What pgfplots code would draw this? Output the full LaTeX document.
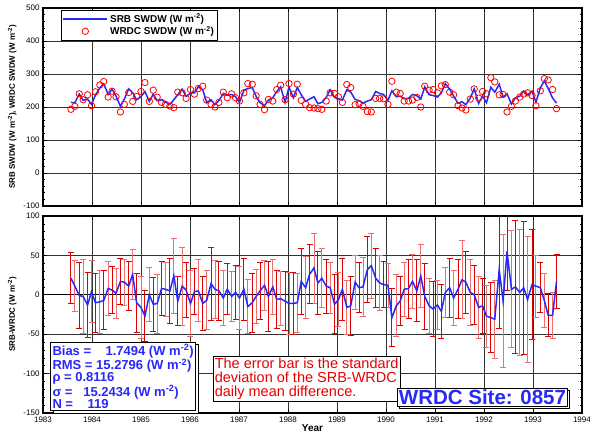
\documentclass[border=0pt]{standalone}
\usepackage{fontspec}
\setmainfont{Liberation Sans}
\usepackage{pgfplots}
\usepackage{pgfplotstable}
\pgfplotsset{compat=1.18}
\usetikzlibrary{shadows, arrows.meta}

\definecolor{srbblue}{RGB}{40,40,250}
\definecolor{barred}{RGB}{220,0,0}
\definecolor{barpink}{RGB}{238,110,110}
\definecolor{txtred}{RGB}{230,0,0}

% monthly means: x, WRDC, SRB, SRB-WRDC, std dev of daily difference
\pgfplotstableread{
x wrdc srb diff sig
1983.57 193 214 21 33
1983.65 202 213 11 33
1983.74 240 239 -1 42
1983.82 222 220 -2 48
1983.91 237 224 -13 42
1983.99 204 208 4 40
1984.07 246 236 -10 38
1984.16 267 258 -9 40
1984.24 277 270 -7 38
1984.33 230 238 8 35
1984.41 248 254 6 30
1984.49 231 233 2 32
1984.58 185 202 17 30
1984.66 208 224 16 30
1984.75 244 255 11 32
1984.83 217 243 26 32
1984.91 232 222 -10 38
1985.00 247 231 -16 40
1985.08 274 247 -27 33
1985.17 217 217 0 35
1985.25 251 239 -12 35
1985.33 230 219 -11 38
1985.42 214 222 8 35
1985.50 208 215 7 35
1985.59 203 208 5 42
1985.67 198 222 24 48
1985.75 245 237 -8 32
1985.84 243 254 11 50
1985.92 226 232 6 35
1986.01 253 242 -11 43
1986.09 239 243 4 30
1986.17 256 261 5 40
1986.26 263 252 -11 35
1986.34 221 214 -7 38
1986.43 208 222 14 47
1986.51 200 207 7 37
1986.59 214 219 5 38
1986.68 245 241 -4 35
1986.76 228 235 7 33
1986.85 240 238 -2 32
1986.93 228 231 3 35
1987.01 218 214 -4 40
1987.10 243 250 7 40
1987.18 271 256 -15 35
1987.27 269 259 -10 38
1987.35 234 232 -2 35
1987.43 208 213 5 37
1987.52 192 204 12 32
1987.60 223 221 -2 45
1987.69 218 228 10 36
1987.77 253 247 -6 37
1987.85 266 261 -5 35
1987.94 222 214 -8 38
1988.02 271 260 -11 40
1988.11 239 228 -11 40
1988.19 269 259 -10 38
1988.27 220 237 17 42
1988.36 208 217 9 40
1988.44 198 224 26 38
1988.53 197 231 34 45
1988.61 195 210 15 40
1988.69 193 214 21 38
1988.78 218 229 11 35
1988.86 243 252 9 33
1988.95 241 229 -12 38
1989.03 231 225 -6 35
1989.11 214 221 7 40
1989.20 268 252 -16 35
1989.28 259 245 -14 38
1989.37 207 223 16 35
1989.45 210 219 9 32
1989.53 202 212 10 38
1989.62 186 218 32 42
1989.70 185 222 37 42
1989.79 226 247 21 38
1989.87 226 241 15 35
1989.95 225 238 13 30
1990.04 208 220 12 28
1990.12 278 249 -29 37
1990.21 245 231 -14 40
1990.29 241 233 -8 32
1990.37 218 225 7 35
1990.46 218 226 8 38
1990.54 221 238 17 35
1990.63 229 234 5 40
1990.71 200 224 24 40
1990.79 263 261 -2 42
1990.88 251 237 -14 35
1990.96 253 235 -18 35
1991.05 243 230 -13 32
1991.13 264 243 -21 35
1991.21 268 271 3 32
1991.30 245 254 9 38
1991.38 237 233 -4 35
1991.47 204 211 7 38
1991.55 197 216 19 50
1991.63 191 207 16 40
1991.72 224 227 3 42
1991.80 255 255 0 38
1991.89 227 211 -16 40
1991.97 247 233 -14 35
1992.05 240 213 -27 40
1992.14 289 260 -29 45
1992.22 276 245 -31 50
1992.31 237 269 32 75
1992.39 238 230 -8 85
1992.47 185 240 55 50
1992.56 202 209 7 75
1992.64 218 228 10 85
1992.73 230 233 3 80
1992.81 239 248 9 85
1992.89 243 237 -6 80
1992.98 235 248 13 70
1993.06 204 215 11 40
1993.15 249 258 9 32
1993.23 286 279 -7 35
1993.31 282 256 -26 28
1993.40 253 227 -26 30
1993.48 195 212 17 35
}\sitedata

\pgfplotsset{
  panel/.style={
    width=539pt, scale only axis,
    xmin=1983, xmax=1994, xtick={1983,...,1994}, minor x tick num=5,
    grid=major, major grid style={black!80, line width=0.6pt},
    axis line style={line width=1.2pt},
    tick style={black, line width=0.6pt},
    major tick length=4pt, minor tick length=2.5pt,
    tick label style={font=\fontsize{8}{9}\selectfont},
    /pgf/number format/assume math mode=true,
    /pgf/number format/1000 sep={},
    ylabel style={font=\bfseries\fontsize{8}{9}\selectfont},
  },
  % one half of a +-sigma bar, drawn as a vertical quiver arrow with a flat cap
  halfbar/.style 2 args={forget plot, color=#1, line width=0.9pt,
    -{Bar[width=6pt]}, quiver={u=0, v=#2}},
}

\begin{document}
\begin{tikzpicture}[x=1pt, y=1pt]
\path[use as bounding box] (0,0) rectangle (590,439);

% upper panel
\begin{axis}[panel, at={(43pt,233pt)}, anchor=south west, height=198pt,
  ymin=-100, ymax=500, ytick={-100,0,...,500}, minor y tick num=4,
  xticklabels={},
  ylabel={SRB SWDW (W m\textsuperscript{-2}), WRDC SWDW (W m\textsuperscript{-2})},
  legend style={at={(0.033,0.99)}, anchor=north west, draw=black, line width=0.6pt,
    font=\bfseries\fontsize{10}{11}\selectfont, row sep=-1.5pt, inner sep=1.5pt},
  legend cell align=left,
  legend image code/.code={\draw[mark repeat=2, mark phase=2, #1] plot coordinates {(0pt,0pt) (22pt,0pt) (44pt,0pt)};},
]
\addplot[srbblue, line width=1.5pt] table[x=x, y=srb]{\sitedata};
\addlegendentry{SRB SWDW (W m\textsuperscript{-2})}
\addplot[only marks, mark=o, mark size=3.2pt, red, mark options={fill=white, line width=0.8pt}] table[x=x, y=wrdc]{\sitedata};
\addlegendentry{WRDC SWDW (W m\textsuperscript{-2})}
\end{axis}

% lower panel
\begin{axis}[panel, at={(43pt,26pt)}, anchor=south west, height=197pt,
  ymin=-150, ymax=100, ytick={-150,-100,...,100}, minor y tick num=4,
  extra y ticks={0}, extra y tick labels={},
  extra y tick style={grid=major, major grid style={black, line width=1pt}},
  xlabel={Year}, xlabel style={font=\bfseries\fontsize{10}{11}\selectfont, yshift=4pt},
  ylabel={SRB-WRDC (W m\textsuperscript{-2})},
]
% all bars light, then every second one dark
\addplot[halfbar={barpink}{\thisrow{sig}}] table[x=x, y=diff]{\sitedata};
\addplot[halfbar={barpink}{-\thisrow{sig}}] table[x=x, y=diff]{\sitedata};
\addplot[each nth point=2, halfbar={barred}{\thisrow{sig}}] table[x=x, y=diff]{\sitedata};
\addplot[each nth point=2, halfbar={barred}{-\thisrow{sig}}] table[x=x, y=diff]{\sitedata};
\addplot[srbblue, line width=1.5pt] table[x=x, y=diff]{\sitedata};
\end{axis}

% annotation boxes
\node[draw=black, line width=1pt, fill=white,
  copy shadow={shadow xshift=2.5pt, shadow yshift=-2.5pt},
  anchor=north west, inner sep=2pt, align=left, text=srbblue,
  font=\bfseries\fontsize{13}{12.2}\selectfont] at (50,97)
  {Bias =\ \ \ \ 1.7494 (W m\textsuperscript{-2})\\
   RMS = 15.2796 (W m\textsuperscript{-2})\\
   ρ = 0.8116\\
   σ =\ \ \ 15.2434 (W m\textsuperscript{-2})\\
   N =\ \ \ \ 119};
\node[draw=black, line width=0.6pt, fill=white, anchor=north west, inner sep=1.5pt,
  align=left, text=txtred, font=\fontsize{14.5}{14}\selectfont] at (213,83)
  {The error bar is the standard\\deviation of the SRB-WRDC\\daily mean difference.};
\node[draw=black, line width=0.8pt, fill=white,
  copy shadow={shadow xshift=2pt, shadow yshift=-2pt},
  anchor=south west, inner sep=1.5pt, text=srbblue,
  font=\bfseries\fontsize{20.5}{21}\selectfont] at (397,32) {WRDC Site: 0857};
\end{tikzpicture}
\end{document}
